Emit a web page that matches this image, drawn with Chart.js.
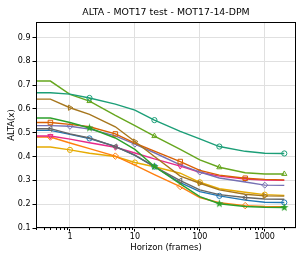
<!DOCTYPE html>
<html>
<head>
<meta charset="utf-8">
<script src="https://cdn.jsdelivr.net/npm/chart.js@4.4.1/dist/chart.umd.min.js"></script>
<style>
  html, body { margin: 0; padding: 0; background: #fff; }
  #wrap { width: 305px; height: 261px; }
</style>
</head>
<body>
<div id="wrap"><canvas id="alta"></canvas></div>
<script>
// horizon 0 can't live on a log axis, 0.1 stands in for it (it is clipped off the left edge)
const horizons = [0.1, 0.5, 1, 2, 5, 10, 20, 50, 100, 200, 500, 1000, 2000];
const xTickValues = [1, 10, 100, 1000];
const yTickValues = [0.1, 0.2, 0.3, 0.4, 0.5, 0.6, 0.7, 0.8, 0.9];
const chartTitle = 'ALTA - MOT17 test - MOT17-14-DPM';

const tealSeries   = [0.668, 0.668, 0.662, 0.646, 0.620, 0.595, 0.553, 0.506, 0.474, 0.442, 0.422, 0.414, 0.413];
const limeSeries   = [0.717, 0.717, 0.661, 0.633, 0.573, 0.530, 0.486, 0.430, 0.386, 0.355, 0.332, 0.327, 0.327];
const brownSeries  = [0.641, 0.641, 0.605, 0.577, 0.525, 0.463, 0.400, 0.318, 0.288, 0.260, 0.242, 0.235, 0.234];
const greenSeries  = [0.562, 0.562, 0.543, 0.520, 0.478, 0.430, 0.358, 0.285, 0.232, 0.202, 0.190, 0.187, 0.186];
const rustSeries   = [0.543, 0.543, 0.535, 0.525, 0.495, 0.456, 0.423, 0.379, 0.342, 0.322, 0.309, 0.304, 0.302];
const purpleSeries = [0.530, 0.530, 0.527, 0.515, 0.487, 0.452, 0.416, 0.365, 0.335, 0.310, 0.293, 0.280, 0.279];
const greySeries   = [0.517, 0.517, 0.495, 0.478, 0.442, 0.406, 0.358, 0.299, 0.260, 0.240, 0.228, 0.222, 0.221];
const blueSeries   = [0.510, 0.510, 0.493, 0.476, 0.443, 0.405, 0.358, 0.290, 0.253, 0.235, 0.217, 0.208, 0.207];
const pinkSeries   = [0.486, 0.486, 0.473, 0.458, 0.439, 0.415, 0.390, 0.360, 0.334, 0.318, 0.306, 0.301, 0.300];
const orangeSeries = [0.482, 0.482, 0.457, 0.433, 0.402, 0.364, 0.324, 0.274, 0.228, 0.206, 0.194, 0.190, 0.189];
const yellowSeries = [0.440, 0.440, 0.428, 0.414, 0.400, 0.375, 0.357, 0.330, 0.292, 0.265, 0.250, 0.240, 0.237];

const minorX = [];
[0.1, 1, 10, 100, 1000].forEach(d => { for (let k = 2; k <= 9; k++) minorX.push(d * k); });

// little filled star for the green series
const star = document.createElement('canvas');
star.width = 9; star.height = 9;
(function() {
  const c = star.getContext('2d');
  c.fillStyle = '#2ca02c';
  c.beginPath();
  for (let i = 0; i < 10; i++) {
    const r = i % 2 ? 1.8 : 4.3;
    const a = -Math.PI / 2 + i * Math.PI / 5;
    c.lineTo(4.5 + r * Math.cos(a), 4.5 + r * Math.sin(a));
  }
  c.closePath();
  c.fill();
})();

function series(data, color, style, offset, radius, rotation) {
  return {
    data: horizons.map((h, i) => ({ x: h, y: data[i] })),
    borderColor: color,
    borderWidth: 1.4,
    backgroundColor: 'transparent',
    pointBackgroundColor: 'rgba(0,0,0,0)',
    pointBorderColor: color,
    pointBorderWidth: 1,
    pointStyle: style,
    pointRotation: rotation || 0,
    pointRadius: ctx => (ctx.dataIndex >= offset && (ctx.dataIndex - offset) % 3 === 0) ? radius : 0,
    pointHoverRadius: 0,
    tension: 0,
    fill: false
  };
}

// axes frame, minor x ticks and the title centred over the plot
const frame = {
  id: 'frame',
  afterDraw(chart) {
    const { ctx, chartArea: a, scales } = chart;
    ctx.save();
    ctx.strokeStyle = '#000';
    ctx.lineWidth = 1;
    ctx.strokeRect(a.left + 0.5, a.top + 0.5, a.right - a.left - 1, a.bottom - a.top - 1);
    ctx.beginPath();
    minorX.forEach(v => {
      const px = Math.round(scales.x.getPixelForValue(v)) + 0.5;
      if (px < a.left || px > a.right) return;
      ctx.moveTo(px, a.bottom);
      ctx.lineTo(px, a.bottom + 2);
    });
    ctx.stroke();
    ctx.fillStyle = '#000';
    ctx.font = '9.4px "DejaVu Sans"';
    ctx.textAlign = 'center';
    ctx.textBaseline = 'middle';
    ctx.fillText(chartTitle, (a.left + a.right) / 2, 12.5);
    ctx.restore();
  }
};

new Chart(document.getElementById('alta'), {
  type: 'line',
  data: {
    datasets: [
      series(tealSeries, '#1b9e77', 'circle', 3, 2.6),
      series(limeSeries, '#66a61e', 'triangle', 3, 3),
      series(brownSeries, '#a6761d', 'triangle', 2, 3, 90),
      series(greenSeries, '#2ca02c', star, 3, 3),
      series(rustSeries, '#d95f02', 'rect', 1, 3.2),
      series(purpleSeries, '#7570b3', 'rectRot', 2, 3),
      series(greySeries, '#666666', 'triangle', 1, 3, 270),
      series(blueSeries, '#1f77b4', 'circle', 3, 2.6),
      series(pinkSeries, '#e7298a', 'triangle', 1, 3, 180),
      series(orangeSeries, '#ff7f0e', 'rectRot', 1, 3.2),
      series(yellowSeries, '#e6ab02', 'circle', 2, 2.6)
    ]
  },
  options: {
    responsive: true, maintainAspectRatio: false,
    animation: false,
    devicePixelRatio: 1,
    layout: { padding: { left: 0, right: 9, top: 22, bottom: 0 } },
    plugins: {
      legend: { display: false },
      tooltip: { enabled: false },
      title: { display: false }
    },
    scales: {
      x: {
        type: 'logarithmic',
        min: 0.33, max: 3030,
        afterBuildTicks: s => { s.ticks = xTickValues.map(v => ({ value: v })); },
        afterFit: s => { s.height = 33; },
        ticks: {
          color: '#000', padding: 1, maxRotation: 0, autoSkip: false,
          font: { family: 'DejaVu Sans', size: 8 },
          callback: v => String(v)
        },
        grid: { color: '#e0e0e0', lineWidth: 1, tickColor: '#000', tickLength: 3.5 },
        border: { display: false },
        title: {
          display: true, text: 'Horizon (frames)', color: '#000',
          font: { family: 'DejaVu Sans', size: 8.5, lineHeight: 1.2 },
          padding: { top: 0, bottom: 8 }
        }
      },
      y: {
        min: 0.1, max: 0.965,
        afterBuildTicks: s => { s.ticks = yTickValues.map(v => ({ value: v })); },
        afterFit: s => { s.width = 36; },
        ticks: {
          color: '#000', padding: 2,
          font: { family: 'DejaVu Sans', size: 8 },
          callback: v => v.toFixed(1)
        },
        grid: { color: '#e0e0e0', lineWidth: 1, tickColor: '#000', tickLength: 3.5 },
        border: { display: false },
        title: {
          display: true, text: 'ALTA(x)', color: '#000',
          font: { family: 'DejaVu Sans', size: 8.5, lineHeight: 1.2 },
          padding: { top: 7, bottom: 0 }
        }
      }
    }
  },
  plugins: [frame]
});
</script>
</body>
</html>
